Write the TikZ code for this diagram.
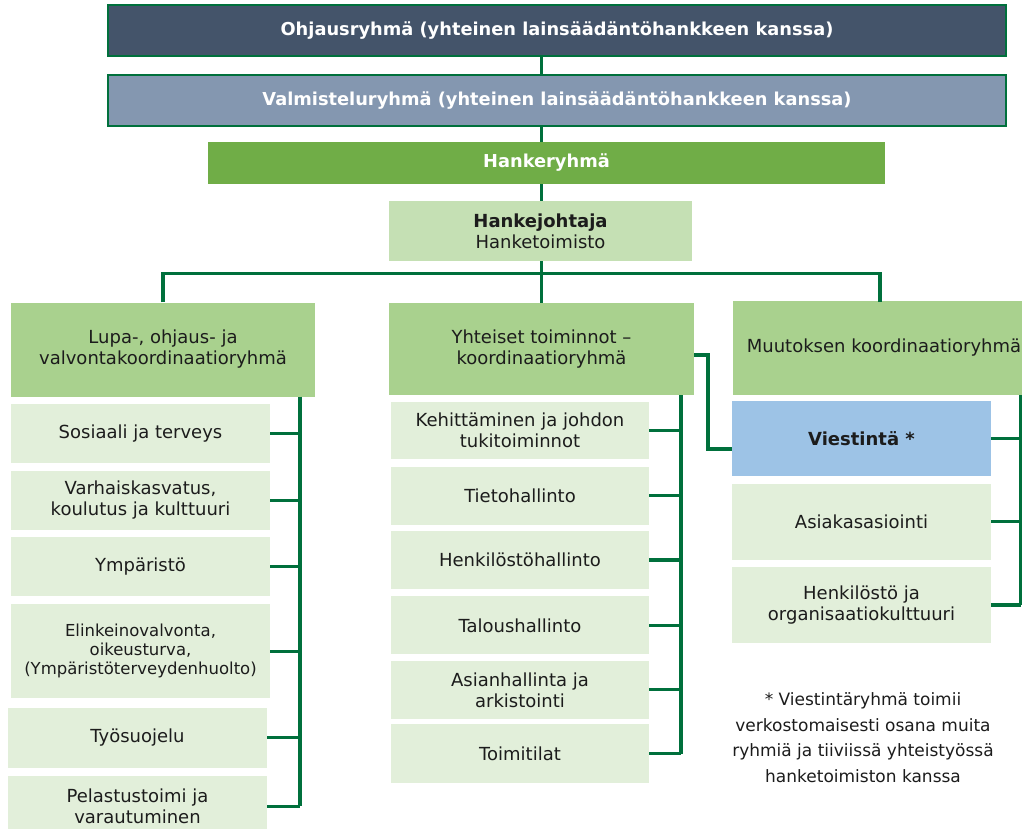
\documentclass[tikz,border=0pt]{standalone}
\usepackage{fontspec}
\setmainfont{DejaVu Sans}
\usetikzlibrary{positioning}

\definecolor{linegreen}{RGB}{0,112,60}
\definecolor{ohjcol}{RGB}{68,84,106}
\definecolor{valmcol}{RGB}{132,151,176}
\definecolor{hankcol}{RGB}{112,173,71}
\definecolor{johtocol}{RGB}{197,224,180}
\definecolor{headcol}{RGB}{169,209,142}
\definecolor{itemcol}{RGB}{226,239,218}
\definecolor{viestcol}{RGB}{157,195,230}
\definecolor{ink}{RGB}{28,28,28}

\begin{document}
\begin{tikzpicture}[%
    x=1pt, y=-1pt,              % pixel-like grid, y going down
    node distance=7pt,          % gap between stacked boxes
    ]
% -------------------------------------------------
% Box and line styles
\tikzset{
  base/.style={align=center, inner sep=0pt, text=ink,
    font=\fontsize{18}{21}\selectfont},
  bar/.style={base, draw=linegreen, line width=1.5pt, text=white,
    minimum width=898pt, minimum height=51pt,
    font=\bfseries\fontsize{17.8}{21}\selectfont},
  head/.style={base, fill=headcol, minimum width=304pt, minimum height=94pt},
  item/.style={base, fill=itemcol, minimum width=259pt, minimum height=58pt},
  link/.style={draw=linegreen, line width=3.2pt},
  note/.style={base, font=\fontsize{17}{25.5}\selectfont}
}
\useasboundingbox (0,0) rectangle (1022,829);
\clip (0,0) rectangle (1022,829);
% -------------------------------------------------
% Top of the organisation
\node [bar, fill=ohjcol] (ohj) at (557,30.5)
  {Ohjausryhmä (yhteinen lainsäädäntöhankkeen kanssa)};
\node [bar, fill=valmcol] (valm) at (557,100.5)
  {Valmisteluryhmä (yhteinen lainsäädäntöhankkeen kanssa)};
\node [base, fill=hankcol, text=white, minimum width=677pt, minimum height=42pt,
  font=\bfseries\fontsize{17.8}{21}\selectfont] (hank) at (546.5,163) {Hankeryhmä};
\node [base, fill=johtocol, minimum width=303pt, minimum height=60pt] (johto)
  at (540.5,231) {\textbf{Hankejohtaja}\\Hanketoimisto};
% -------------------------------------------------
% Coordination groups
\node [head] (lupa) at (163,349.5) {Lupa-, ohjaus- ja\\valvontakoordinaatioryhmä};
\node [head, minimum width=305pt, minimum height=92pt] (yht) at (541.5,349)
  {Yhteiset toiminnot –\\koordinaatioryhmä};
\node [head, minimum width=302pt] (muut) at (884,348) {Muutoksen koordinaatioryhmä};
% -------------------------------------------------
% Left column
\node [item, minimum height=59pt, anchor=north] (soc) at (140.5,404) {Sosiaali ja terveys};
\node [item, minimum height=59pt, below=of soc] (vark) {Varhaiskasvatus,\\koulutus ja kulttuuri};
\node [item, minimum height=59pt, below=of vark] (ymp) {Ympäristö};
\node [item, minimum height=94pt, below=8pt of ymp, font=\fontsize{16.5}{19}\selectfont] (elin)
  {Elinkeinovalvonta,\\oikeusturva,\\(Ympäristöterveydenhuolto)};
\node [item, minimum height=60pt, below=9pt of elin, xshift=-3pt] (tyo) {Työsuojelu};
\node [item, minimum height=60pt, below=8pt of tyo] (pel) {Pelastustoimi ja\\varautuminen};
% Middle column
\node [item, minimum width=258pt, minimum height=57pt, anchor=north] (keh) at (520,402)
  {Kehittäminen ja johdon\\tukitoiminnot};
\node [item, minimum width=258pt, below=of keh] (tieto) {Tietohallinto};
\node [item, minimum width=258pt, below=6pt of tieto] (henk) {Henkilöstöhallinto};
\node [item, minimum width=258pt, below=of henk] (talous) {Taloushallinto};
\node [item, minimum width=258pt, below=6pt of talous] (asian) {Asianhallinta ja\\arkistointi};
\node [item, minimum width=258pt, minimum height=59pt, below=5pt of asian] (toimi) {Toimitilat};
% Right column
\node [item, fill=viestcol, minimum height=75pt, anchor=north,
  font=\bfseries\fontsize{18}{21}\selectfont] (viest) at (861.5,401) {Viestintä *};
\node [item, minimum height=76pt, below=of viest] (asiak) {Asiakasasiointi};
\node [item, minimum height=76pt, below=of asiak] (henkorg) {Henkilöstö ja\\organisaatiokulttuuri};
\node [note] (huom) at (863,737.5) {* Viestintäryhmä toimii\\verkostomaisesti osana muita\\ryhmiä ja tiiviissä yhteistyössä\\hanketoimiston kanssa};
% -------------------------------------------------
% Connectors
\foreach \a/\b in {ohj/valm, valm/hank, hank/johto, johto/yht}
  \draw [link] (\a.south -| yht.north) -- (\b.north -| yht.north);
\draw [link] (lupa.north) -- ++(0,-29) -| (880,302);
\coordinate (lbar) at (300,0);
\coordinate (mbar) at (681,0);
\coordinate (rbar) at (1021,0);
\draw [link] (lupa.south -| lbar) -- (pel.east -| lbar);
\foreach \n in {soc,vark,ymp,elin,tyo,pel}
  \draw [link] (\n.east) -- (\n.east -| lbar);
\draw [link] (yht.south -| mbar) -- (toimi.east -| mbar);
\foreach \n in {keh,tieto,henk,talous,asian,toimi}
  \draw [link] (\n.east) -- (\n.east -| mbar);
\draw [link] (muut.south -| rbar) -- (henkorg.east -| rbar);
\foreach \n in {viest,asiak,henkorg}
  \draw [link] (\n.east) -- (\n.east -| rbar);
% Yhteiset toiminnot -> Viestintä
\draw [link] ([yshift=-6pt]yht.east) -| (708,449) -- (viest.west |- 0,449);
\end{tikzpicture}
\end{document}
